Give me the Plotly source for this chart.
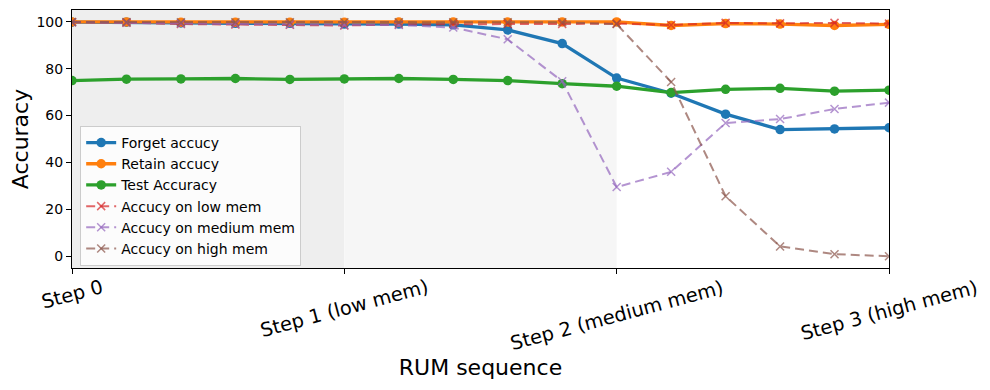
import plotly.graph_objects as go

steps = list(range(16))
step_ticks = [0, 5, 10, 15]
step_labels = ["Step 0", "Step 1 (low mem)", "Step 2 (medium mem)", "Step 3 (high mem)"]

forget_acc = [99.8, 99.8, 99.5, 99.3, 99.3, 99.0, 99.0, 98.7, 96.5, 90.7, 76.0, 69.5, 60.6, 54.0, 54.3, 54.8]
retain_acc = [99.9, 99.9, 99.8, 99.8, 99.8, 99.8, 99.9, 99.9, 99.9, 99.9, 99.9, 98.4, 99.2, 99.0, 98.4, 98.9]
test_acc = [74.9, 75.5, 75.6, 75.8, 75.4, 75.6, 75.8, 75.4, 74.9, 73.6, 72.5, 69.8, 71.2, 71.6, 70.4, 70.8]
low_mem_acc = [99.8, 99.6, 99.0, 98.8, 98.7, 98.4, 98.8, 99.0, 99.0, 99.0, 99.2, 98.6, 99.5, 99.3, 99.5, 99.2]
medium_mem_acc = [99.8, 99.7, 99.3, 99.0, 98.8, 98.6, 98.6, 97.5, 92.5, 74.6, 29.5, 36.0, 56.8, 58.5, 62.8, 65.5]
high_mem_acc = [99.9, 99.9, 99.8, 99.8, 99.8, 99.8, 99.8, 99.8, 99.8, 99.8, 99.0, 74.3, 25.6, 4.2, 0.9, 0.0]

FONT = "DejaVu Sans"

solid = [
    ("Forget accucy", forget_acc, "#1f77b4"),
    ("Retain accucy", retain_acc, "#ff7f0e"),
    ("Test Accuracy", test_acc, "#2ca02c"),
]
dashed = [
    ("Accucy on low mem", low_mem_acc, "rgba(214,39,40,0.7)"),
    ("Accucy on medium mem", medium_mem_acc, "rgba(148,103,189,0.7)"),
    ("Accucy on high mem", high_mem_acc, "rgba(140,86,75,0.7)"),
]

fig = go.Figure()
for name, vals, color in solid:
    fig.add_trace(go.Scatter(
        x=steps, y=vals, name=name, mode="lines+markers",
        line=dict(color=color, width=3.3),
        marker=dict(color=color, size=9.5, symbol="circle"),
    ))
for name, vals, color in dashed:
    fig.add_trace(go.Scatter(
        x=steps, y=vals, name=name, mode="lines+markers",
        line=dict(color=color, width=2, dash="9px,5px"),
        marker=dict(color=color, size=8, symbol="x-thin", line=dict(color=color, width=1.5)),
    ))

# shaded step regions
shapes = [
    dict(type="rect", xref="x", yref="paper", x0=0, x1=5, y0=0, y1=1,
         fillcolor="#eeeeee", line=dict(width=0), layer="below"),
    dict(type="rect", xref="x", yref="paper", x0=5, x1=10, y0=0, y1=1,
         fillcolor="#f6f6f6", line=dict(width=0), layer="below"),
]

# rotated, centred tick labels like the original
annotations = [
    dict(x=t, y=0, xref="x", yref="paper", text=lab, showarrow=False,
         textangle=-15, xanchor="center", yanchor="top", yshift=-5,
         font=dict(family=FONT, size=19.4, color="black"))
    for t, lab in zip(step_ticks, step_labels)
]

# page body has an 8px margin, so pull everything up/left by that much
fig.update_layout(
    width=990, height=390,
    margin=dict(l=64, r=109, t=2, b=130),
    paper_bgcolor="white", plot_bgcolor="white",
    font=dict(family=FONT, size=14, color="black"),
    shapes=shapes,
    annotations=annotations,
    showlegend=True,
    legend=dict(
        x=0.01, y=0.008, xanchor="left", yanchor="bottom",
        bgcolor="rgba(255,255,255,0.8)", bordercolor="#cccccc", borderwidth=1,
        font=dict(family=FONT, size=14), tracegroupgap=0, itemwidth=30,
    ),
    xaxis=dict(
        range=[0, 15], tickvals=step_ticks, showticklabels=False,
        ticks="outside", ticklen=5, tickcolor="black", automargin=False,
        showline=True, linecolor="black", linewidth=1, mirror=True,
        showgrid=False, zeroline=False,
        title=dict(text="RUM sequence", font=dict(family=FONT, size=22), standoff=86),
    ),
    yaxis=dict(
        range=[-5, 105], tickvals=[0, 20, 40, 60, 80, 100],
        ticks="outside", ticklen=5, tickcolor="black", automargin=False,
        showline=True, linecolor="black", linewidth=1, mirror=True,
        showgrid=False, zeroline=False,
        tickfont=dict(family=FONT, size=14),
        title=dict(text="Accuracy", font=dict(family=FONT, size=22), standoff=8),
    ),
)

fig.write_html("out.html")
